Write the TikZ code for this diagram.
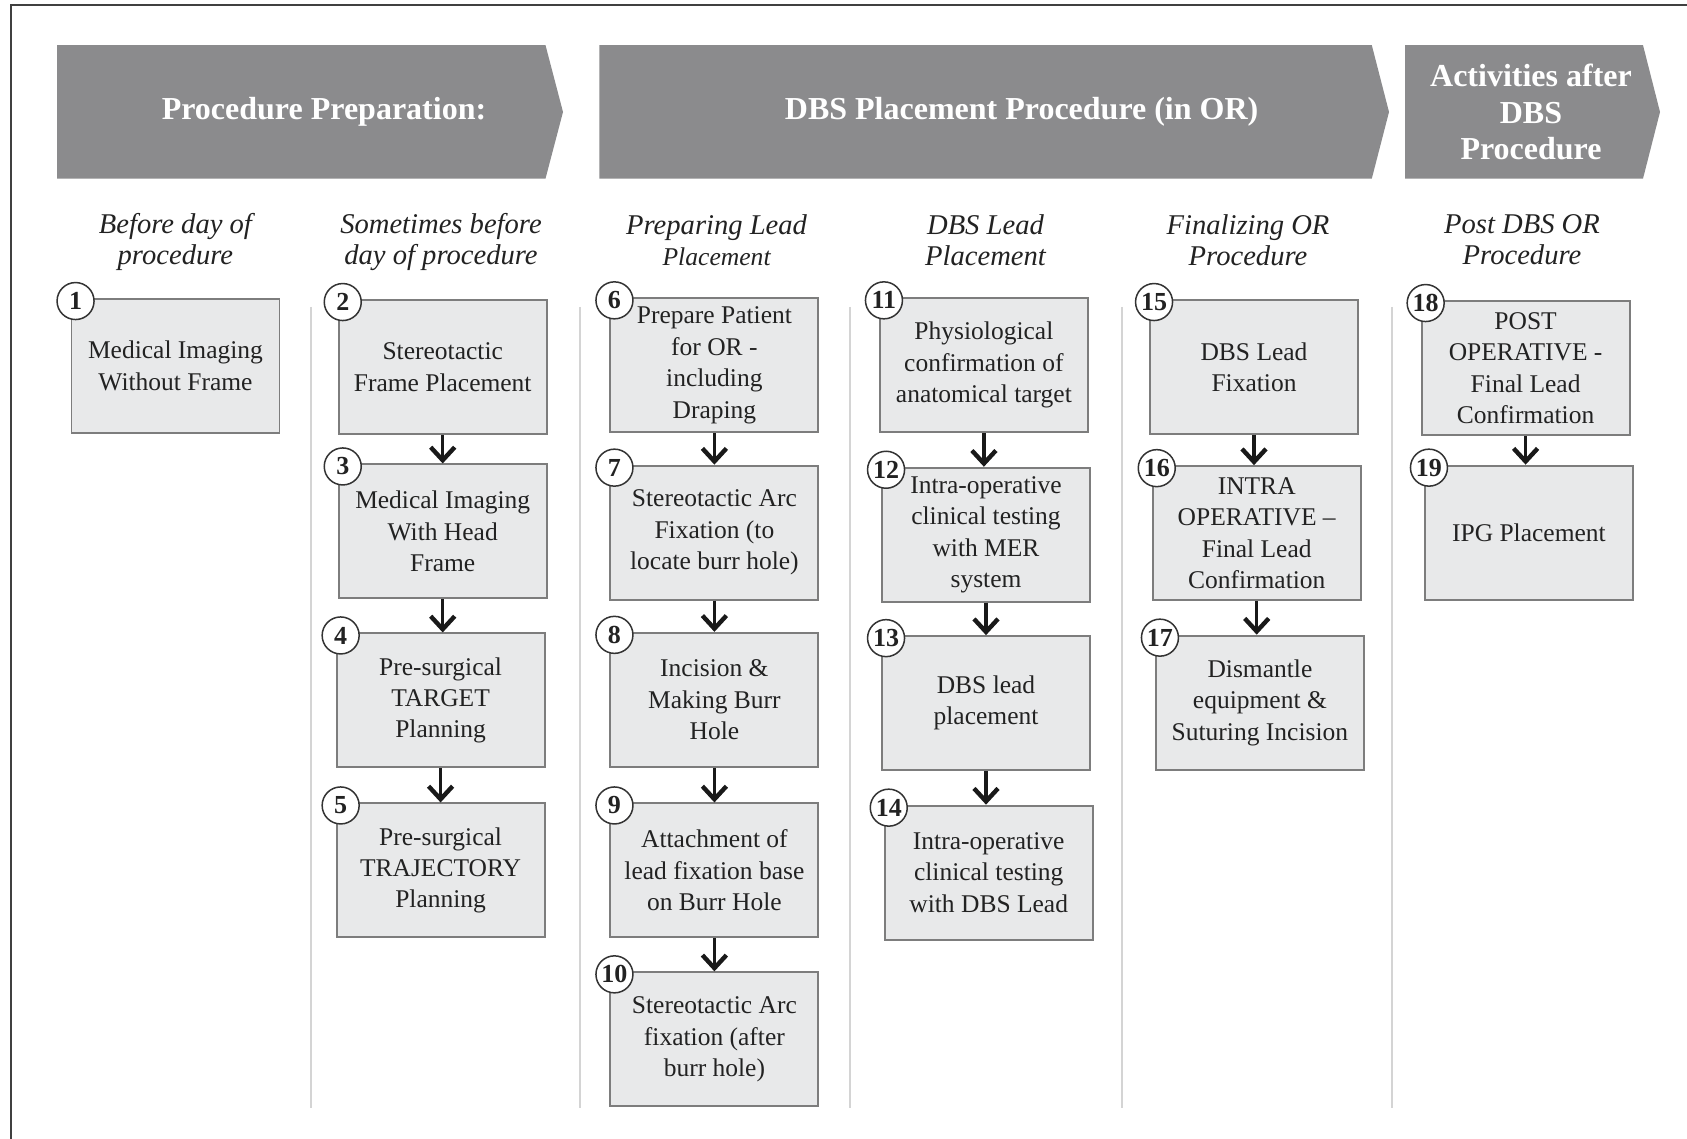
\documentclass[tikz,border=0pt]{standalone}
\usepackage{fontspec}
\setmainfont{Liberation Serif}
\usetikzlibrary{arrows.meta}
\definecolor{hdr}{HTML}{8B8B8D}
\definecolor{boxfill}{HTML}{E8E9EA}
\definecolor{boxline}{HTML}{7D7D7D}
\definecolor{sepline}{HTML}{D4D4D4}
\definecolor{txt}{HTML}{222222}
\begin{document}
\begin{tikzpicture}[x=0.5pt,y=-0.5pt,
 stepbox/.style={draw=boxline, line width=0.95pt, fill=boxfill, minimum width=104pt, minimum height=67pt, align=center, font=\fontsize{12.75}{15.7}\selectfont, text=txt, inner sep=0pt},
 numc/.style={circle, draw=black!80, line width=0.75pt, fill=white, minimum size=18.5pt, inner sep=0pt, font=\bfseries\fontsize{13}{13}\selectfont, text=txt},
 colhead/.style={align=center, font=\itshape\fontsize{14.3}{15.6}\selectfont, text=txt},
 hdrtext/.style={align=center, text=white, font=\bfseries\fontsize{16}{18.3}\selectfont},
 flow/.style={-{Straight Barb[length=6.5pt,width=12pt,line width=2.2pt]}, line width=1.6pt, draw=black!90},
 sep/.style={draw=sepline, line width=1pt},
 hdrshape/.style={fill=hdr}
]
\useasboundingbox (0,0) rectangle (1687,1139);
\fill[white] (0,0) rectangle (1687,1139);
\draw[line width=1pt, draw=black!75] (10.8,1139) -- (10.8,5.4) -- (1687,5.4);

% headers
\fill[hdrshape] (57,45.2) -- (545.5,45.2) -- (563,112) -- (545.5,178.6) -- (57,178.6) -- cycle;
\fill[hdrshape] (599.3,45.2) -- (1371.8,45.2) -- (1389,112) -- (1371.8,178.6) -- (599.3,178.6) -- cycle;
\fill[hdrshape] (1405,45.2) -- (1643,45.2) -- (1660,112) -- (1643,178.6) -- (1405,178.6) -- cycle;
\node[hdrtext] (h1) at (324,112) {Procedure Preparation:};
\node[hdrtext] (h2) at (1021.6,112) {DBS Placement Procedure (in OR)};
\node[hdrtext] (h3) at (1531,112) {Activities after\\DBS\\Procedure};

% column headings
\node[colhead] (c1) at (175.4,242) {Before day of\\procedure};
\node[colhead] (c2) at (441,242) {Sometimes before\\day of procedure};
\node[colhead] (c3) at (716.6,240) {Preparing Lead\\{\fontsize{12.8}{15.6}\selectfont Placement}};
\node[colhead] (c4) at (985.5,240) {DBS Lead\\Placement};
\node[colhead] (c5) at (1248,240) {Finalizing OR\\Procedure};
\node[colhead] (c6) at (1522,240) {Post DBS OR\\Procedure};

% separators
\foreach \sx in {311,580,850,1122,1392} {
  \draw[sep] (\sx,307) -- (\sx,1108);
}

% boxes
\node[stepbox] (b1) at (175.5,366) {Medical Imaging\\Without Frame};
\node[stepbox] (b2) at (442.7,367) {Stereotactic\\Frame Placement};
\node[stepbox] (b3) at (442.7,531.4) {Medical Imaging\\With Head\\Frame};
\node[stepbox] (b4) at (440.6,700.4) {Pre-surgical\\TARGET\\Planning};
\node[stepbox] (b5) at (440.6,870.4) {Pre-surgical\\TRAJECTORY\\Planning};
\node[stepbox] (b6) at (714.4,365.3) {Prepare Patient\\for OR -\\including\\Draping};
\node[stepbox] (b7) at (714.4,532.6) {Stereotactic Arc\\Fixation (to\\locate burr hole)};
\node[stepbox] (b8) at (714.4,699.8) {Incision \&\\Making Burr\\Hole};
\node[stepbox] (b9) at (714.4,870.4) {Attachment of\\lead fixation base\\on Burr Hole};
\node[stepbox] (b10) at (714.4,1039.3) {Stereotactic Arc\\fixation (after\\burr hole)};
\node[stepbox] (b11) at (983.9,365.3) {Physiological\\confirmation of\\anatomical target};
\node[stepbox] (b12) at (986,534.7) {Intra-operative\\clinical testing\\with MER\\system};
\node[stepbox] (b13) at (986,703.1) {DBS lead\\placement};
\node[stepbox] (b14) at (988.7,872.6) {Intra-operative\\clinical testing\\with DBS Lead};
\node[stepbox] (b15) at (1254,367) {DBS Lead\\Fixation};
\node[stepbox] (b16) at (1256.7,533.1) {INTRA\\OPERATIVE –\\Final Lead\\Confirmation};
\node[stepbox] (b17) at (1259.9,702.6) {Dismantle\\equipment \&\\Suturing Incision};
\node[stepbox] (b18) at (1525.6,368) {POST\\OPERATIVE -\\Final Lead\\Confirmation};
\node[stepbox] (b19) at (1528.9,532.6) {IPG Placement};

% number circles
\foreach \i in {1,...,19} {
  \node[numc] (n\i) at ([shift={(5,3)}]b\i.north west) {\i};
}

% arrows
\foreach \a/\b in {2/3,3/4,4/5,6/7,7/8,8/9,9/10,11/12,12/13,13/14,15/16,16/17,18/19} {
  \draw[flow] (b\a.south) -- (b\a.south |- b\b.north);
}
\end{tikzpicture}
\end{document}
